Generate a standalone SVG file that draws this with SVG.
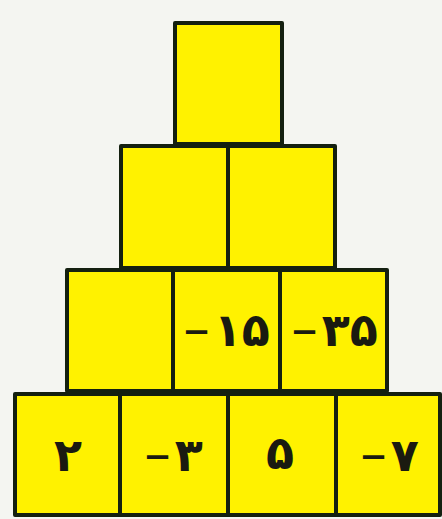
<svg xmlns="http://www.w3.org/2000/svg" width="442" height="519" viewBox="0 0 442 519">
<style>
.b{fill:#fff200;stroke:#142010;stroke-width:4;stroke-linejoin:round}
.t{font-family:"DejaVu Sans","Noto Sans",sans-serif;font-weight:bold;font-size:46px;fill:#1a1a10;text-anchor:middle;direction:ltr}
.m{font-size:34px}
</style>
<rect width="442" height="519" fill="#f4f5f1"/>
<g id="row1"><rect id="n1" class="b" x="175" y="23" width="107" height="121"/></g>
<g id="row2">
<rect id="n2" class="b" x="121" y="146" width="107" height="122"/>
<rect id="n3" class="b" x="228" y="146" width="107" height="122"/>
</g>
<g id="row3">
<rect id="n4" class="b" x="67" y="270" width="106" height="121"/>
<g id="n5"><rect class="b" x="173" y="270" width="107" height="121"/><text class="t" x="226" y="346"><tspan class="m" dy="-3">−</tspan><tspan dx="3" dy="3">۱۵</tspan></text></g>
<g id="n6"><rect class="b" x="280" y="270" width="107" height="121"/><text class="t" x="334" y="346"><tspan class="m" dy="-3">−</tspan><tspan dx="3" dy="3">۳۵</tspan></text></g>
</g>
<g id="row4">
<g id="n7"><rect class="b" x="15" y="394" width="105" height="121"/><text class="t" x="68" y="471">۲</text></g>
<g id="n8"><rect class="b" x="120" y="394" width="108" height="121"/><text class="t" x="173" y="471"><tspan class="m" dy="-3">−</tspan><tspan dx="3" dy="3">۳</tspan></text></g>
<g id="n9"><rect class="b" x="228" y="394" width="108" height="121"/><text class="t" x="280" y="469">۵</text></g>
<g id="n10"><rect class="b" x="336" y="394" width="104" height="121"/><text class="t" x="389" y="471"><tspan class="m" dy="-3">−</tspan><tspan dx="3" dy="3">۷</tspan></text></g>
</g>
<g id="connectors"/>
</svg>
